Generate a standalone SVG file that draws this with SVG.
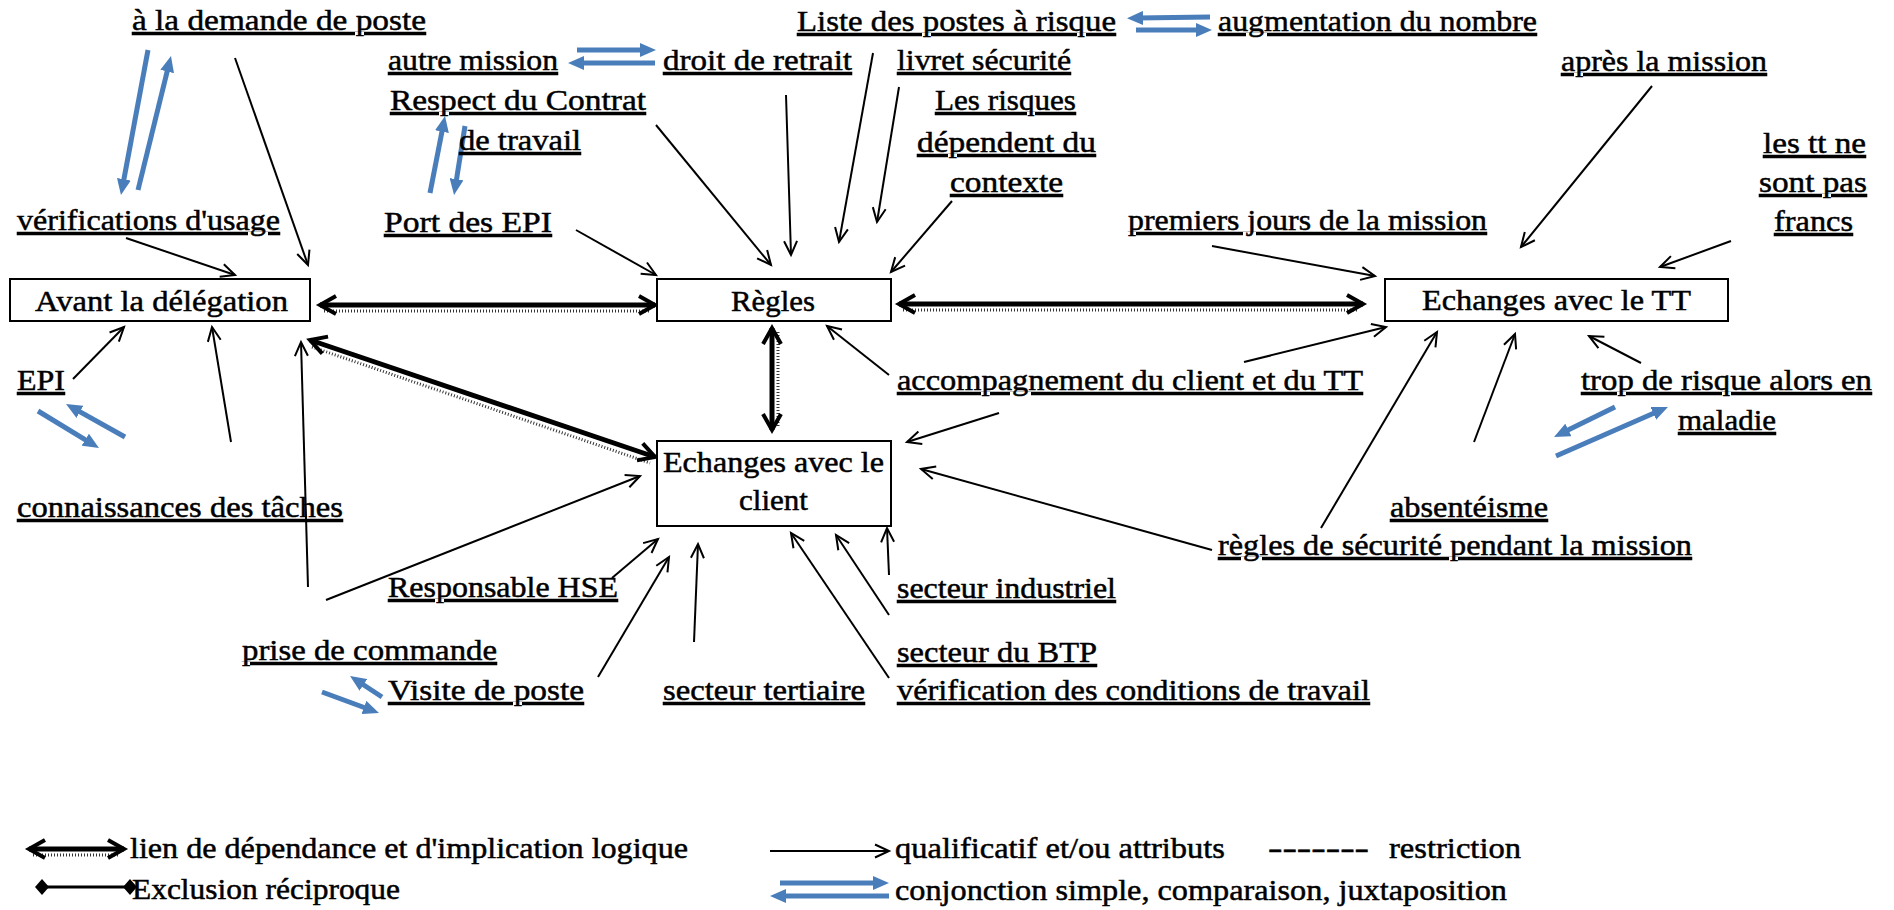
<svg xmlns="http://www.w3.org/2000/svg" width="1894" height="910" viewBox="0 0 1894 910">
<style>
text{font-family:"Liberation Serif","Times New Roman",serif;font-size:30px;fill:#000;stroke:#000;stroke-width:0.5px}
.u{text-decoration:underline}
.box{fill:#fff;stroke:#000;stroke-width:2}
.thin{stroke:#000;stroke-width:2;fill:none;marker-end:url(#ah)}
.bold{stroke:#000;stroke-width:5;fill:none;marker-start:url(#bh);marker-end:url(#bh)}
.shadow{stroke:#333;stroke-width:3;stroke-dasharray:1 2;fill:none}
.blue{stroke:#4A7EBB;stroke-width:5;fill:none;marker-end:url(#bl)}
</style>
<defs>
<marker id="ah" viewBox="0 0 16 16" markerWidth="16" markerHeight="16" refX="15" refY="8" orient="auto" markerUnits="userSpaceOnUse" style="overflow:visible"><path d="M1,1.5 L15,8 L1,14.5" fill="none" stroke="#000" stroke-width="2"/></marker>
<marker id="bh" viewBox="0 0 22 22" markerWidth="22" markerHeight="22" refX="19" refY="11" orient="auto-start-reverse" markerUnits="userSpaceOnUse" style="overflow:visible"><path d="M3,2 L19,11 L3,20" fill="none" stroke="#000" stroke-width="4"/></marker>
<marker id="bl" viewBox="0 0 16 14" markerWidth="16" markerHeight="14" refX="6" refY="7" orient="auto" markerUnits="userSpaceOnUse"><path d="M0,0 L16,7 L0,14 z" fill="#4A7EBB"/></marker>
<marker id="dm" viewBox="0 0 14 16" markerWidth="14" markerHeight="16" refX="7" refY="8" markerUnits="userSpaceOnUse"><path d="M7,0 L14,8 L7,16 L0,8 z" fill="#000"/></marker>
</defs>
<rect width="1894" height="910" fill="#fff"/>

<g id="connectors">
<!-- bold shadows -->
<line class="shadow" x1="324" y1="311" x2="651" y2="311"/>
<line class="shadow" x1="903" y1="310" x2="1359" y2="310"/>
<line class="shadow" x1="312" y1="347" x2="650" y2="463"/>
<line class="shadow" x1="778" y1="332" x2="778" y2="426"/>
<!-- bold -->
<line class="bold" x1="320" y1="305" x2="655" y2="305"/>
<line class="bold" x1="899" y1="304" x2="1363" y2="304"/>
<line class="bold" x1="310" y1="340" x2="655" y2="457"/>
<line class="bold" x1="772" y1="328" x2="772" y2="430"/>
<!-- thin -->
<line class="thin" x1="235" y1="58" x2="308" y2="265"/>
<line class="thin" x1="126" y1="238" x2="235" y2="275"/>
<line class="thin" x1="576" y1="230" x2="656" y2="275"/>
<line class="thin" x1="656" y1="125" x2="771" y2="265"/>
<line class="thin" x1="786" y1="95" x2="791" y2="255"/>
<line class="thin" x1="873" y1="53" x2="839" y2="242"/>
<line class="thin" x1="899" y1="87" x2="877" y2="222"/>
<line class="thin" x1="952" y1="201" x2="891" y2="272"/>
<line class="thin" x1="1212" y1="246" x2="1375" y2="276"/>
<line class="thin" x1="1652" y1="86" x2="1521" y2="247"/>
<line class="thin" x1="1731" y1="241" x2="1660" y2="267"/>
<line class="thin" x1="73" y1="379" x2="124" y2="327"/>
<line class="thin" x1="231" y1="442" x2="212" y2="327"/>
<line class="thin" x1="308" y1="587" x2="301" y2="342"/>
<line class="thin" x1="326" y1="600" x2="640" y2="476"/>
<line class="thin" x1="612" y1="578" x2="658" y2="539"/>
<line class="thin" x1="598" y1="677" x2="669" y2="557"/>
<line class="thin" x1="694" y1="642" x2="698" y2="544"/>
<line class="thin" x1="889" y1="678" x2="791" y2="533"/>
<line class="thin" x1="889" y1="615" x2="836" y2="535"/>
<line class="thin" x1="889" y1="575" x2="887" y2="528"/>
<line class="thin" x1="889" y1="375" x2="827" y2="326"/>
<line class="thin" x1="999" y1="413" x2="907" y2="442"/>
<line class="thin" x1="1244" y1="362" x2="1386" y2="327"/>
<line class="thin" x1="1212" y1="550" x2="921" y2="469"/>
<line class="thin" x1="1321" y1="528" x2="1437" y2="332"/>
<line class="thin" x1="1474" y1="442" x2="1515" y2="334"/>
<line class="thin" x1="1641" y1="363" x2="1589" y2="336"/>
<!-- blue -->
<line class="blue" x1="148" y1="50" x2="122.8" y2="185.2"/>
<line class="blue" x1="138" y1="190" x2="168.6" y2="65.7"/>
<line class="blue" x1="577" y1="50" x2="646" y2="50"/>
<line class="blue" x1="655" y1="63" x2="578" y2="63"/>
<line class="blue" x1="430" y1="193" x2="443.1" y2="125.8"/>
<line class="blue" x1="465" y1="126" x2="455.6" y2="185.1"/>
<line class="blue" x1="1210" y1="17" x2="1137" y2="18"/>
<line class="blue" x1="1136" y1="30" x2="1202" y2="30"/>
<line class="blue" x1="38" y1="411" x2="90.4" y2="442.8"/>
<line class="blue" x1="125" y1="437" x2="74.7" y2="408.9"/>
<line class="blue" x1="382" y1="697" x2="358.4" y2="681.5"/>
<line class="blue" x1="322" y1="692" x2="369.6" y2="709.5"/>
<line class="blue" x1="1615" y1="407" x2="1563" y2="432.6"/>
<line class="blue" x1="1556" y1="456" x2="1658.8" y2="411"/>
</g>

<g id="node-avant"><rect class="box" x="10" y="279" width="300" height="42"/><text x="35" y="311" textLength="253" lengthAdjust="spacingAndGlyphs">Avant la délégation</text></g>
<g id="node-regles"><rect class="box" x="657" y="279" width="234" height="42"/><text x="731" y="311" textLength="84" lengthAdjust="spacingAndGlyphs">Règles</text></g>
<g id="node-tt"><rect class="box" x="1385" y="279" width="343" height="42"/><text x="1422" y="310" textLength="269" lengthAdjust="spacingAndGlyphs">Echanges avec le TT</text></g>
<g id="node-client"><rect class="box" x="657" y="441" width="234" height="85"/><text x="663" y="472" textLength="221" lengthAdjust="spacingAndGlyphs">Echanges avec le</text><text x="739" y="510" textLength="69" lengthAdjust="spacingAndGlyphs">client</text></g>

<g id="l-demande"><text class="u" x="132" y="30" textLength="294" lengthAdjust="spacingAndGlyphs">à la demande de poste</text></g>
<g id="l-liste"><text class="u" x="797" y="31" textLength="319" lengthAdjust="spacingAndGlyphs">Liste des postes à risque</text></g>
<g id="l-augmentation"><text class="u" x="1218" y="31" textLength="319" lengthAdjust="spacingAndGlyphs">augmentation du nombre</text></g>
<g id="l-autre"><text class="u" x="388" y="70" textLength="170" lengthAdjust="spacingAndGlyphs">autre mission</text></g>
<g id="l-droit"><text class="u" x="663" y="70" textLength="189" lengthAdjust="spacingAndGlyphs">droit de retrait</text></g>
<g id="l-livret"><text class="u" x="897" y="70" textLength="174" lengthAdjust="spacingAndGlyphs">livret sécurité</text></g>
<g id="l-apres"><text class="u" x="1561" y="71" textLength="206" lengthAdjust="spacingAndGlyphs">après la mission</text></g>
<g id="l-respect"><text class="u" x="390" y="110" textLength="256" lengthAdjust="spacingAndGlyphs">Respect du Contrat</text><text class="u" x="459" y="150" textLength="122" lengthAdjust="spacingAndGlyphs">de travail</text></g>
<g id="l-risques"><text class="u" x="935" y="110" textLength="141" lengthAdjust="spacingAndGlyphs">Les risques</text><text class="u" x="917" y="152" textLength="179" lengthAdjust="spacingAndGlyphs">dépendent du</text><text class="u" x="950" y="192" textLength="113" lengthAdjust="spacingAndGlyphs">contexte</text></g>
<g id="l-tt"><text class="u" x="1763" y="153" textLength="103" lengthAdjust="spacingAndGlyphs">les tt ne</text><text class="u" x="1759" y="192" textLength="108" lengthAdjust="spacingAndGlyphs">sont pas</text><text class="u" x="1774" y="231" textLength="79" lengthAdjust="spacingAndGlyphs">francs</text></g>
<g id="l-verif"><text class="u" x="17" y="230" textLength="263" lengthAdjust="spacingAndGlyphs">vérifications d'usage</text></g>
<g id="l-port"><text class="u" x="384" y="232" textLength="168" lengthAdjust="spacingAndGlyphs">Port des EPI</text></g>
<g id="l-premiers"><text class="u" x="1128" y="230" textLength="359" lengthAdjust="spacingAndGlyphs">premiers jours de la mission</text></g>
<g id="l-epi"><text class="u" x="17" y="390" textLength="48" lengthAdjust="spacingAndGlyphs">EPI</text></g>
<g id="l-accompagnement"><text class="u" x="897" y="390" textLength="466" lengthAdjust="spacingAndGlyphs">accompagnement du client et du TT</text></g>
<g id="l-trop"><text class="u" x="1581" y="390" textLength="291" lengthAdjust="spacingAndGlyphs">trop de risque alors en</text><text class="u" x="1678" y="430" textLength="98" lengthAdjust="spacingAndGlyphs">maladie</text></g>
<g id="l-connaissances"><text class="u" x="17" y="517" textLength="326" lengthAdjust="spacingAndGlyphs">connaissances des tâches</text></g>
<g id="l-absenteisme"><text class="u" x="1390" y="517" textLength="158" lengthAdjust="spacingAndGlyphs">absentéisme</text></g>
<g id="l-regles-securite"><text class="u" x="1218" y="555" textLength="474" lengthAdjust="spacingAndGlyphs">règles de sécurité pendant la mission</text></g>
<g id="l-hse"><text class="u" x="388" y="597" textLength="230" lengthAdjust="spacingAndGlyphs">Responsable HSE</text></g>
<g id="l-industriel"><text class="u" x="897" y="598" textLength="219" lengthAdjust="spacingAndGlyphs">secteur industriel</text></g>
<g id="l-prise"><text class="u" x="242" y="660" textLength="255" lengthAdjust="spacingAndGlyphs">prise de commande</text></g>
<g id="l-btp"><text class="u" x="897" y="662" textLength="200" lengthAdjust="spacingAndGlyphs">secteur du BTP</text></g>
<g id="l-visite"><text class="u" x="388" y="700" textLength="196" lengthAdjust="spacingAndGlyphs">Visite de poste</text></g>
<g id="l-tertiaire"><text class="u" x="663" y="700" textLength="202" lengthAdjust="spacingAndGlyphs">secteur tertiaire</text></g>
<g id="l-verification"><text class="u" x="897" y="700" textLength="473" lengthAdjust="spacingAndGlyphs">vérification des conditions de travail</text></g>

<g id="legend">
<line class="shadow" x1="33" y1="855" x2="120" y2="855"/>
<line class="bold" x1="29" y1="849" x2="124" y2="849"/>
<text x="130" y="858" textLength="558" lengthAdjust="spacingAndGlyphs">lien de dépendance et d'implication logique</text>
<line x1="42" y1="887" x2="130" y2="887" stroke="#000" stroke-width="3" marker-start="url(#dm)" marker-end="url(#dm)"/>
<text x="132" y="899" textLength="268" lengthAdjust="spacingAndGlyphs">Exclusion réciproque</text>
<line class="thin" x1="770" y1="851" x2="889" y2="851"/>
<text x="895" y="858" textLength="330" lengthAdjust="spacingAndGlyphs">qualificatif et/ou attributs</text>
<text x="1268" y="858" textLength="101" lengthAdjust="spacingAndGlyphs">-------</text>
<text x="1389" y="858" textLength="132" lengthAdjust="spacingAndGlyphs">restriction</text>
<line class="blue" x1="780" y1="883" x2="879" y2="883"/>
<line class="blue" x1="889" y1="896" x2="780" y2="896"/>
<text x="895" y="900" textLength="612" lengthAdjust="spacingAndGlyphs">conjonction simple, comparaison, juxtaposition</text>
</g>
</svg>
